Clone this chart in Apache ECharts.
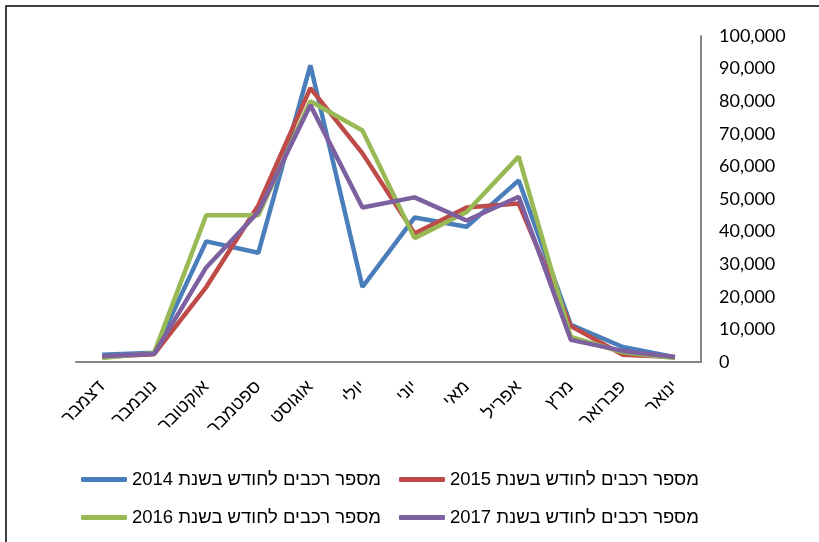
<!DOCTYPE html>
<html>
<head>
<meta charset="utf-8">
<script src="https://cdn.jsdelivr.net/npm/echarts@6/dist/echarts.min.js"></script>
<style>html,body{margin:0;padding:0;background:#fff;}#c{width:819px;height:542px;}</style>
</head>
<body>
<div id="c"></div>
<script>
const categories = ['דצמבר','נובמבר','אוקטובר','ספטמבר','אוגוסט','יולי','יוני','מאי','אפריל','מרץ','פברואר','ינואר'];
const seriesNames = ['מספר רכבים לחודש בשנת 2014','מספר רכבים לחודש בשנת 2015','מספר רכבים לחודש בשנת 2016','מספר רכבים לחודש בשנת 2017'];
const v2014 = [2200, 2800, 37000, 33500, 91000, 23000, 44300, 41500, 55700, 11400, 4600, 1500];
const v2015 = [1600, 2400, 23000, 48000, 84000, 64000, 39400, 47400, 48600, 11000, 2200, 1500];
const v2016 = [1200, 2800, 45000, 45000, 80000, 71000, 38000, 46000, 63000, 7700, 3000, 1200];
const v2017 = [1800, 2500, 29000, 46000, 78800, 47400, 50500, 43400, 50700, 6800, 3400, 1500];
const colors = ['#4A7EBB','#BE4B48','#98B954','#7D60A0'];
const yTicks = {min: 0, max: 100000, interval: 10000};

const chart = echarts.init(document.getElementById('c'), null, {renderer: 'canvas'});
const legendText = {fontFamily: 'Liberation Sans', fontSize: 18.5, color: '#000'};
chart.setOption({
  animation: false,
  color: colors,
  graphic: [{
    type: 'rect', shape: {x: 6, y: 6, width: 900, height: 600},
    style: {fill: 'none', stroke: '#000', lineWidth: 1.5}, silent: true
  }],
  grid: {left: 76, right: 118, top: 36, bottom: 180},
  legend: [
    {data: [seriesNames[0], seriesNames[1]], left: 76, top: 465, itemWidth: 46, itemHeight: 5, itemGap: 18, icon: 'roundRect', textStyle: legendText},
    {data: [seriesNames[2], seriesNames[3]], left: 76, top: 503, itemWidth: 46, itemHeight: 5, itemGap: 18, icon: 'roundRect', textStyle: legendText}
  ],
  xAxis: {
    type: 'category', data: categories, boundaryGap: true,
    axisLine: {lineStyle: {color: '#868686', width: 2}},
    axisTick: {show: false},
    axisLabel: {rotate: 45, margin: 22, interval: 0, fontFamily: 'Liberation Sans', fontSize: 18, color: '#000'}
  },
  yAxis: {
    type: 'value', position: 'right', min: yTicks.min, max: yTicks.max, interval: yTicks.interval,
    axisLine: {show: true, lineStyle: {color: '#868686', width: 2}},
    axisTick: {show: false},
    splitLine: {show: false},
    axisLabel: {margin: 18, fontFamily: 'Lato', fontSize: 18, color: '#000',
      formatter: v => v.toLocaleString('en-US')}
  },
  series: [v2014, v2015, v2016, v2017].map((d, i) => ({
    name: seriesNames[i], type: 'line', data: d, symbol: 'none',
    lineStyle: {width: 4.5, color: colors[i]}, itemStyle: {color: colors[i]}
  }))
});
</script>
</body>
</html>
